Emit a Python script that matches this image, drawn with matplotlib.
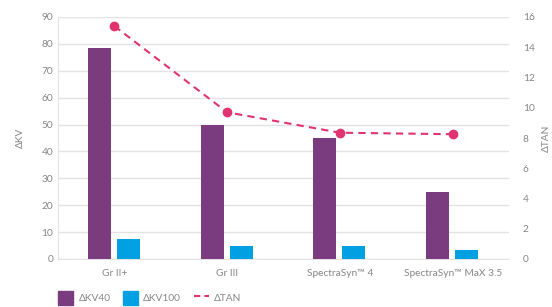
import matplotlib
matplotlib.use("Agg")
import matplotlib.pyplot as plt
import numpy as np
from matplotlib.lines import Line2D
from matplotlib.patches import Patch

categories = ["Gr II+", "Gr III", "SpectraSyn\u2122 4", "SpectraSyn\u2122 MaX 3.5"]
kv40 = [78.5, 50, 45, 25]
kv100 = [7.4, 4.8, 4.8, 3.3]
tan = [15.4, 9.7, 8.35, 8.25]

plt.rcParams['font.family'] = ['Lato', 'DejaVu Sans']
gray = '#858585'
purple = '#7b3b7f'
blue = '#00a0e3'
pink = '#e0346f'

fig = plt.figure(figsize=(5.52, 3.07), dpi=100)
ax = fig.add_axes([58/552, 1-259/307, 451/552, 242/307])
ax2 = ax.twinx()

x = np.arange(len(categories))
w = 0.204
ax.bar(x - 0.132, kv40, w, color=purple, zorder=3)
ax.bar(x + 0.125, kv100, w, color=blue, zorder=3)
ax.set_xlim(-0.5, 3.5)
ax.set_ylim(0, 90)
ax.set_yticks(range(0, 91, 10))
ax.grid(axis='y', color='#e3e3e3', lw=1, zorder=0)
ax.set_axisbelow(True)
for s in ['top', 'right']:
    ax.spines[s].set_visible(False)
ax.spines['left'].set_color('#e3e3e3')
ax.spines['bottom'].set_color('#e3e3e3')
ax.set_xticks(x)
ax.set_xticklabels(categories)
ax.tick_params(axis='both', length=0, colors=gray, labelsize=7.3)
ax.tick_params(axis='x', pad=7)
ax.set_ylabel('\u0394KV', color=gray, fontsize=7.3, labelpad=12)

ax2.plot(x, tan, color=pink, ls=(0, (3.5, 2.5)), lw=1.5, marker='o', ms=6, zorder=4)
ax2.set_ylim(0, 16)
ax2.set_yticks(range(0, 17, 2))
for s in ax2.spines.values():
    s.set_visible(False)
ax2.tick_params(axis='y', length=0, colors=gray, labelsize=7.3, pad=10)
ax2.set_ylabel('\u0394TAN', color=gray, fontsize=7.3, labelpad=5)

handles = [Patch(color=purple), Patch(color=blue),
           Line2D([0], [0], color=pink, ls=(0, (3, 2)), lw=1.5)]
fig.legend(handles, ['\u0394KV40', '\u0394KV100', '\u0394TAN'], loc='center left',
           bbox_to_anchor=(49/552, 1-298/307), ncol=3, frameon=False, fontsize=7.3,
           labelcolor=gray, handlelength=1.5, handleheight=1.6, columnspacing=1.25,
           handletextpad=0.5)

fig.savefig("out.png", dpi=100)
